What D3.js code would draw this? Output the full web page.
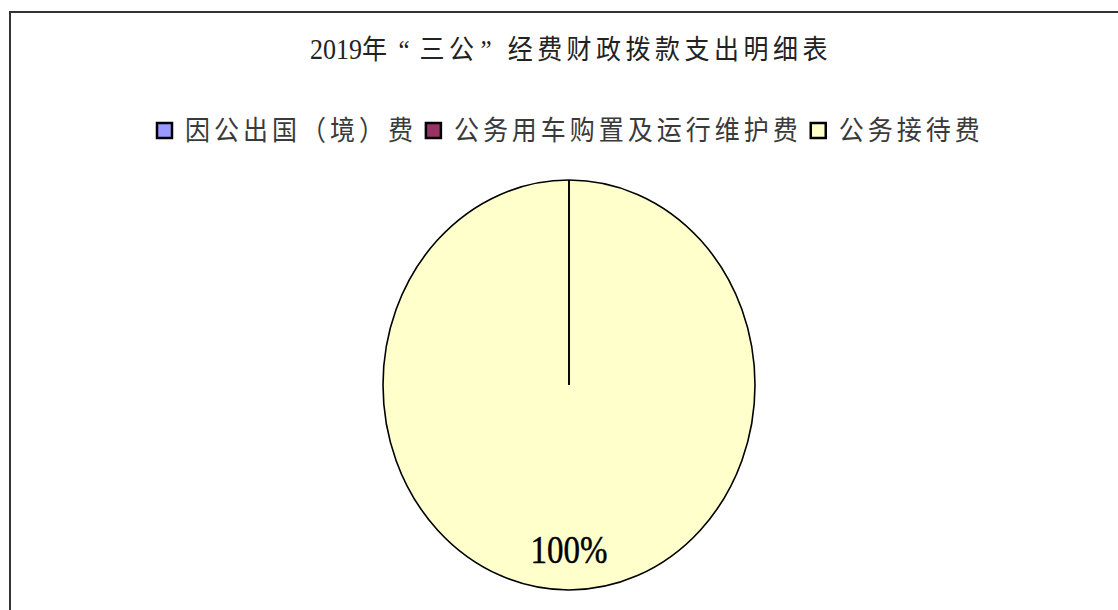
<!DOCTYPE html>
<html>
<head>
<meta charset="utf-8">
<script src="https://cdn.jsdelivr.net/npm/d3@7"></script>
<style>
  body { margin: 0; background: #fff; }
  svg { display: block; }
</style>
</head>
<body>
<svg id="drawing_region"></svg>
<script>
// chart data
var titleParts = ['2019', '年', '“', '三公', '”', '经费财政拨款支出明细表'];
var categories = ['因公出国（境）费', '公务用车购置及运行维护费', '公务接待费'];
var shares = [0, 0, 100];
var colors = ['#9999FF', '#993366', '#FFFFCC'];

var width = 1118;
var height = 610;
var cx = 569, cy = 385;
var rx = 186, ry = 205;
var stretch = 1.1; // vertical text stretch seen in the picture

var svg = d3.select('#drawing_region')
    .attr('width', width)
    .attr('height', height);

// outer frame (runs past right and bottom edges)
svg.append('rect')
    .attr('x', 10).attr('y', 12)
    .attr('width', 1300).attr('height', 800)
    .attr('fill', 'none')
    .attr('stroke', '#333')
    .attr('stroke-width', 2);

var cjkFont = '"Liberation Serif", "Noto Sans CJK SC", serif';

// title: digits tight, quotes padded like full-width marks
var title = svg.append('text')
    .attr('transform', `translate(${cx + 2}, 59) scale(1, ${stretch})`)
    .attr('text-anchor', 'middle')
    .attr('font-family', cjkFont)
    .attr('font-size', 25)
    .attr('fill', '#222');
titleParts.forEach((p, i) => {
    var ts = title.append('tspan').text(p);
    if (i === 0) ts.attr('font-size', 26);
    else if (p === '“') ts.attr('dx', 7).attr('letter-spacing', 10);
    else if (p === '”') ts.attr('dx', 2).attr('letter-spacing', 16);
    else ts.attr('letter-spacing', 4.5);
});

// legend
var legend = svg.append('g');
var xpos = 0;
categories.forEach((c, i) => {
    var item = legend.append('g').attr('transform', `translate(${xpos}, 0)`);
    item.append('rect')
        .attr('x', 1).attr('y', -17)
        .attr('width', 15).attr('height', 15)
        .attr('fill', colors[i])
        .attr('stroke', '#000')
        .attr('stroke-width', 2.5);
    var t = item.append('text')
        .attr('transform', `translate(29, 0) scale(1, ${stretch})`)
        .attr('font-family', cjkFont)
        .attr('font-size', 25)
        .attr('letter-spacing', 4)
        .attr('fill', '#3a3a3a')
        .text(c);
    xpos += 29 + t.node().getComputedTextLength() + 8;
});
legend.attr('transform', `translate(156, 140)`);

// pie drawn as an ellipse
var pie = d3.pie().sort(null).value(d => d);
var arcs = pie(shares).map((a, i) => Object.assign(a, {i: i}));
var arc = d3.arc().innerRadius(0).outerRadius(rx);
var labelArc = d3.arc().innerRadius(rx * 0.81).outerRadius(rx * 0.81);

var chart = svg.append('g').attr('transform', `translate(${cx}, ${cy})`);
var pieG = chart.append('g').attr('transform', `scale(1, ${ry / rx})`);

pieG.selectAll('path')
    .data(arcs.slice().sort((a, b) => b.value - a.value))
    .enter().append('path')
    .attr('d', arc)
    .attr('fill', d => colors[d.i])
    .attr('stroke', '#000')
    .attr('stroke-width', 1.6)
    .attr('vector-effect', 'non-scaling-stroke');

var total = d3.sum(shares);
chart.selectAll('text.label')
    .data(arcs.filter(d => d.value > 0))
    .enter().append('text')
    .attr('class', 'label')
    .attr('transform', d => {
        var c = labelArc.centroid(d);
        return `translate(${c[0]}, ${c[1] * ry / rx + 12}) scale(1, 1.2)`;
    })
    .attr('text-anchor', 'middle')
    .attr('font-family', '"Liberation Serif", serif')
    .attr('font-size', 33)
    .attr('fill', '#000')
    .attr('stroke', '#000')
    .attr('stroke-width', 0.4)
    .text(d => Math.round(d.value / total * 100) + '%');
</script>
</body>
</html>
